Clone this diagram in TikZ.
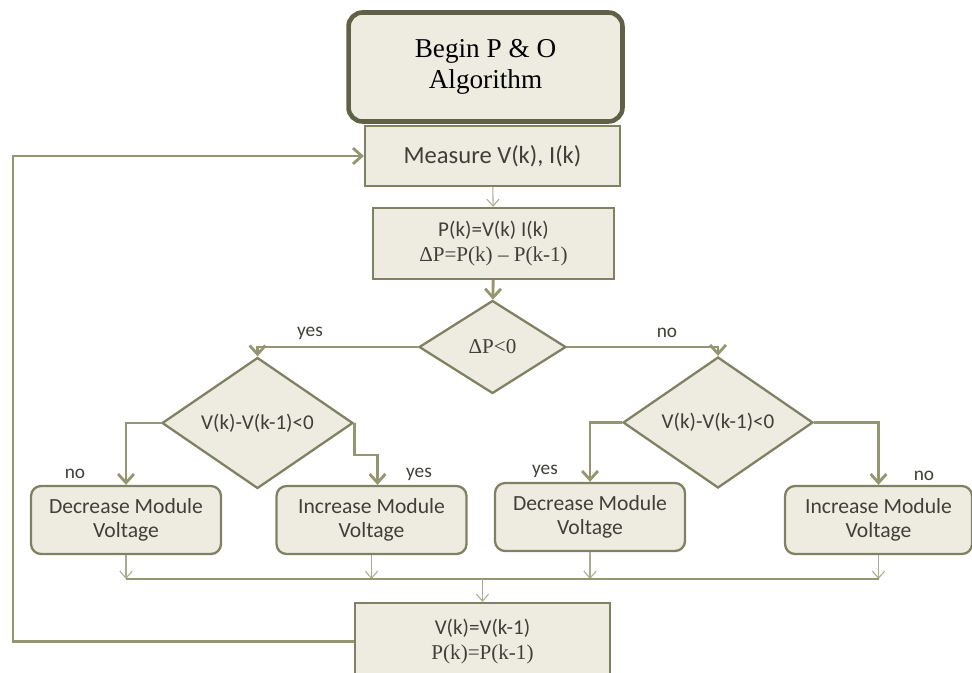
\documentclass[tikz,border=0pt]{standalone}
\usepackage{fontspec}
\setmainfont{Liberation Serif}
\setsansfont{Carlito}
\usepackage{tikz}
\usetikzlibrary{arrows.meta,positioning,shapes.geometric}
\definecolor{tan}{RGB}{238,236,225}
\definecolor{olive}{RGB}{148,150,112}
\definecolor{rim}{RGB}{128,128,98}
\definecolor{darkrim}{RGB}{96,96,70}
\definecolor{ink}{RGB}{64,64,56}
\begin{document}
\begin{tikzpicture}
			[x=0.02cm,y=-0.02cm,
			box/.style={shape=rectangle,draw=rim,fill=tan,line width=1.3pt,
				inner sep=0pt,align=center,text=ink,font=\fontsize{12pt}{14pt}\selectfont},
			rbox/.style={box,rounded corners=0.2cm,minimum width=3.8cm,minimum height=1.36cm,
				font=\sffamily\fontsize{12.3pt}{14pt}\selectfont},
			test/.style={shape=diamond,draw=rim,fill=tan,line width=1.3pt,inner sep=0pt,
				text=ink,minimum width=3.82cm,minimum height=1.84cm},
			lbl/.style={text=ink,font=\sffamily\fontsize{11pt}{13pt}\selectfont},
			arc/.style={draw=olive,line width=1.6pt,-{Straight Barb[length=5pt,width=9pt,line width=1.6pt]}},
			thin/.style={draw=olive!80,line width=0.6pt,-{Straight Barb[length=4pt,width=7pt]}},
			bus/.style={draw=olive,line width=1.6pt}]
			\useasboundingbox (0,0) rectangle (972,672);
			\node (begin) [box,draw=darkrim,line width=2.6pt,rounded corners=0.28cm,
				minimum width=5.48cm,minimum height=2.18cm,text=black,
				font=\fontsize{15.5pt}{18pt}\selectfont] at (485.5,67) {Begin P \& O\\Algorithm};
			\node (measure) [box,minimum width=5.1cm,minimum height=1.2cm,
				font=\sffamily\fontsize{14pt}{16pt}\selectfont] at (492.5,156) {Measure V(k), I(k)};
			\node (power) [box,minimum width=4.82cm,minimum height=1.42cm] at (493.5,243.5)
				{{\sffamily P(k)=V(k) I(k)}\\ΔP=P(k) – P(k-1)};
			
			\node (dp) [test,minimum width=2.94cm,minimum height=1.86cm,
				font=\fontsize{12pt}{14pt}\selectfont] at (492.5,347) {ΔP<0};
			\node (dl) [test,font=\sffamily\fontsize{12pt}{14pt}\selectfont] at (257.5,423) {V(k)-V(k-1)<0};
			\node (dr) [test,minimum width=3.8cm,font=\sffamily\fontsize{12pt}{14pt}\selectfont] at (718,422.5) {V(k)-V(k-1)<0};
			
			\node (b1) [rbox] at (126,520) {Decrease Module\\Voltage};
			\node (b2) [rbox] at (371.5,520) {Increase Module\\Voltage};
			\node (b3) [rbox] at (590,517) {Decrease Module\\Voltage};
			\node (b4) [rbox,minimum width=3.74cm] at (878.5,520) {Increase Module\\Voltage};
			
			\node (final) [box,minimum width=5.1cm,minimum height=1.54cm] at (482.5,641.5)
				{{\sffamily V(k)=V(k-1)}\\P(k)=P(k-1)};
			
			\node (yes0) [lbl] at (310,333) {yes};
			\node (no0) [lbl] at (667,333) {no};
			\node (no1) [lbl] at (75,474) {no};
			\node (yes1) [lbl] at (419,474) {yes};
			\node (yes2) [lbl] at (545,471) {yes};
			\node (no2) [lbl] at (924,476) {no};
			
			\coordinate (busl) at (126,579);
			\coordinate (busr) at (879,579);
			\coordinate (loop) at (13,156);
			
			\draw [thin] (measure) to (power);
			\draw [arc] (power) to (dp);
			\draw [arc] (dp.west) -| (dl.north);
			\draw [arc] (dp.east) -| (dr.north);
			\draw [arc] (dl.west) -| (b1.north);
			\draw [arc] (dl.east) -- ++(0,32) -| ([xshift=0.12cm]b2.north);
			\draw [arc] (dr.west) -| (b3.north);
			\draw [arc] (dr.east) -| (b4.north);
			\draw [thin] (b1.south) to (b1.south |- busl);
			\draw [thin] (b2.south) to (b2.south |- busl);
			\draw [thin] (b3.south) to (b3.south |- busl);
			\draw [thin] (b4.south) to (b4.south |- busl);
			\draw [bus] (busl) to (busr);
			\draw [thin] (final.north |- busl) to (final.north);
			\draw [arc] (final.west) -| (loop) to (measure.west);
			\end{tikzpicture}
\end{document}
